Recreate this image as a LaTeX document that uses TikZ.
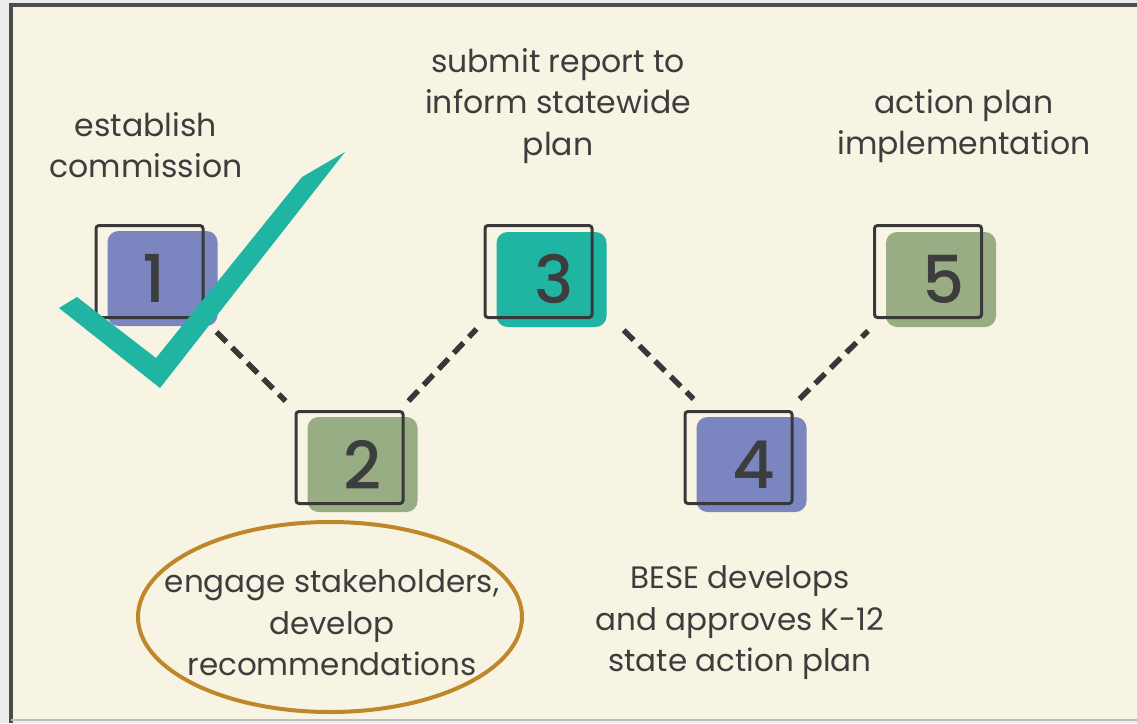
\documentclass[tikz,border=0pt]{standalone}
\usepackage{fontspec}
\setmainfont{Poppins}
\newfontfamily\numfont{Poppins Medium}
\usetikzlibrary{shapes.geometric,calc}
\definecolor{cream}{HTML}{F8F4E3}
\definecolor{outer}{HTML}{ECECEC}
\definecolor{ink}{HTML}{3D3D3D}
\definecolor{lineink}{HTML}{383838}
\definecolor{purp}{HTML}{7B86C0}
\definecolor{teal}{HTML}{20B5A3}
\definecolor{sage}{HTML}{99AD84}
\definecolor{gold}{HTML}{C0862A}
\tikzset{
  outlinebox/.style={draw=lineink, line width=3pt, rounded corners=3pt, minimum width=107pt, minimum height=92pt, inner sep=0pt},
  fillbox/.style={rounded corners=11pt, minimum width=110pt, minimum height=95pt, inner sep=0pt},
  numlabel/.style={text=ink, font=\numfont\fontsize{66}{66}\selectfont, inner sep=0pt},
  caption/.style={text=ink, align=center, font=\fontsize{31.5}{41.5}\selectfont, inner sep=0pt},
  dashlink/.style={draw=lineink, line width=5.5pt, dash pattern=on 14pt off 8pt},
}
\begin{document}
\begin{tikzpicture}[x=1pt,y=-1pt]
\useasboundingbox (0,0) rectangle (1137,723);
\fill[outer] (0,0) rectangle (1137,723);
\fill[cream] (11,5) rectangle (1137,719);
\draw[line width=3.5pt, draw=lineink!90] (11,723) -- (11,5) -- (1137,5);
\draw[line width=2pt, draw=black!25] (11,720) -- (1137,720);

% fills
\node[fillbox, fill=purp] (f1) at (162.5,278.5) {};
\node[fillbox, fill=sage] (f2) at (362.5,464.5) {};
\node[fillbox, fill=teal] (f3) at (551.5,279.5) {};
\node[fillbox, fill=purp] (f4) at (751.5,464.5) {};
\node[fillbox, fill=sage] (f5) at (941,279.5) {};
% outlines
\node[outlinebox] (b1) at (149.5,271.5) {};
\node[outlinebox] (b2) at (349.5,457.5) {};
\node[outlinebox] (b3) at (538.5,271.5) {};
\node[outlinebox] (b4) at (738.5,457.5) {};
\node[outlinebox] (b5) at (928,271.5) {};
% numbers
\node[numlabel] (n1) at ([xshift=-8pt]f1.center) {1};
\node[numlabel] (n2) at (f2) {2};
\node[numlabel] (n3) at ([xshift=3pt]f3.center) {3};
\node[numlabel] (n4) at ([xshift=2pt]f4.center) {4};
\node[numlabel] (n5) at ([xshift=3pt]f5.center) {5};

% connectors
\draw[dashlink] ([shift={(12,13)}]b1.south east) -- ([shift={(-9,-9)}]b2.north west);
\draw[dashlink] ([shift={(4,-9)}]b2.north east) -- ([shift={(-7,10)}]b3.south west);
\draw[dashlink] ([shift={(17,3)}]f3.south east) -- ([shift={(10,-11)}]b4.north west);
\draw[dashlink] ([shift={(6,-11)}]b4.north east) -- ([shift={(-5,12)}]b5.south west);

% captions
\node[caption] (t1) at (146,145) {establish\\commission};
\node[caption] (t3) at (558,106) {submit report to\\inform statewide\\plan};
\node[caption] (t5) at (964,126) {action plan\\implementation};
\node[caption, font=\fontsize{31}{41.5}\selectfont] (t2) at (332,623) {engage stakeholders,\\develop\\recommendations};
\node[caption, font=\fontsize{31}{41.5}\selectfont] (t4) at (740,623) {BESE develops\\and approves K-12\\state action plan};

% highlight ellipse
\node[draw=gold, line width=4pt, ellipse, minimum width=384pt, minimum height=190pt] (hl) at (330,617) {};

% checkmark
\fill[teal] (59,308) -- (77,297) -- (156,358) -- (302,177) -- (345,152) -- (160,388) -- cycle;
\end{tikzpicture}
\end{document}
